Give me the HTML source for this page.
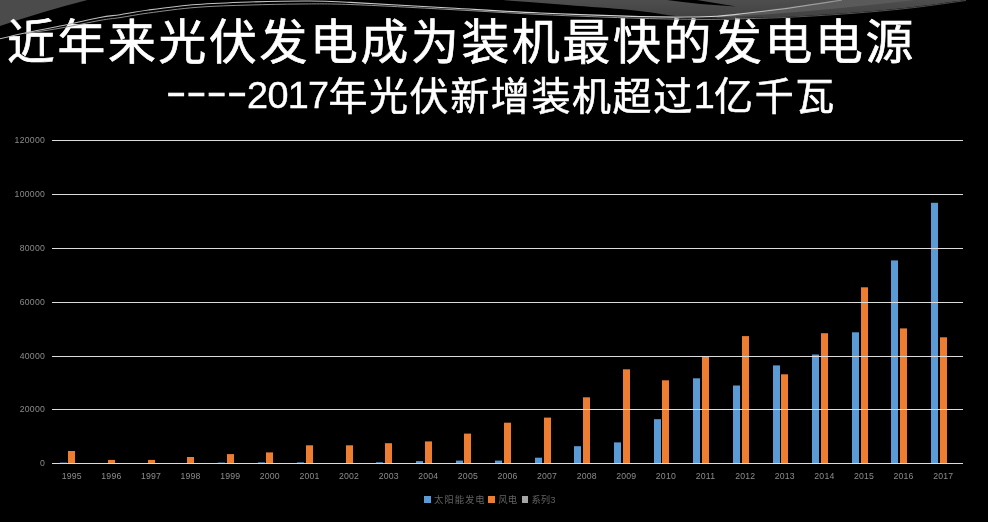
<!DOCTYPE html>
<html lang="zh-CN">
<head>
<meta charset="utf-8">
<title>近年来光伏发电成为装机最快的发电电源</title>
<style>
html,body{margin:0;padding:0;background:#000;}
body{width:988px;height:522px;overflow:hidden;position:relative;font-family:"Liberation Sans","Noto Sans CJK SC",sans-serif;}
#deco,#deco2,#chart{position:absolute;left:0;top:0;}
.ax{font-family:"Liberation Sans",sans-serif;font-size:8.7px;letter-spacing:0.2px;fill:#8c8c8c;}
.ay{font-family:"Liberation Sans",sans-serif;font-size:8.7px;letter-spacing:0.25px;fill:#8c8c8c;}
h1{position:absolute;left:7.1px;top:18.3px;margin:0;font-weight:400;-webkit-text-stroke:0.7px #fff;color:#fff;font-size:47.8px;line-height:50px;letter-spacing:2.7px;white-space:nowrap;font-family:"Liberation Sans","Noto Sans CJK SC",sans-serif;}
h2{position:absolute;left:165.9px;top:73.7px;margin:0;font-weight:400;-webkit-text-stroke:0.55px #fff;color:#fff;font-size:39px;line-height:46px;letter-spacing:1.6px;white-space:nowrap;font-family:"Liberation Sans","Noto Sans CJK SC",sans-serif;}
h2 .l{letter-spacing:-0.7px;font-size:37.8px;position:relative;top:-2px;-webkit-text-stroke:0.4px #fff;}
h2 .d{display:inline-block;letter-spacing:0;font-size:36.5px;-webkit-text-stroke:0.6px #fff;transform:scaleX(1.67);transform-origin:0 50%;width:81.2px;position:relative;top:-6px;}
.legend{position:absolute;left:0;top:0;font-size:9.4px;line-height:12px;color:#626262;white-space:nowrap;font-family:"Liberation Sans","Noto Sans CJK SC",sans-serif;}
.legend i{position:absolute;top:496.3px;width:6.7px;height:6.6px;}
.legend span{position:absolute;top:494.2px;}
</style>
</head>
<body>
<svg id="deco" width="988" height="60" viewBox="0 0 988 60">
<defs>
<linearGradient id="g1" x1="0" y1="0" x2="0" y2="1"><stop offset="0" stop-color="#4e4e4e"/><stop offset="1" stop-color="#414141"/></linearGradient>
</defs>
<path d="M0,0 L87.5,0 Q46,10.5 0,26 Z" fill="#4b4b4b"/>
<path d="M502,0 C507.5,0.4 524.2,1.6 535.0,2.4 C545.8,3.2 556.2,4.1 567.0,4.9 C577.8,5.8 589.5,6.7 600.0,7.5 C610.5,8.3 620.8,9.1 630.0,10.0 C639.2,10.9 647.8,12.0 655.0,13.0 C662.2,14.0 665.5,15.1 673.0,15.8 C680.5,16.5 688.8,16.9 700.0,17.3 C711.2,17.7 725.3,18.1 740.0,18.0 C754.7,17.9 769.8,17.5 788.0,16.7 C806.2,15.9 828.8,14.5 849.0,13.0 C869.2,11.5 890.0,9.7 909.5,7.5 C929.0,5.3 956.6,1.2 966.0,0.0 Z" fill="url(#g1)"/>
<path d="M717,16.4 L842,0 L915,0 Q810,12.5 717,17.6 Z" fill="#5a5a5a"/>
<path d="M667,0 L697,0 L736,6.4 Q700,4.6 667,0 Z" fill="#000"/>
</svg>
<h1>近年来光伏发电成为装机最快的发电电源</h1>
<h2><span class="d">----</span><span class="l">2017</span>年光伏新增装机超过<span class="l">1</span>亿千瓦</h2>
<svg id="deco2" width="988" height="60" viewBox="0 0 988 60">
<defs>
<linearGradient id="g2" gradientUnits="userSpaceOnUse" x1="0" y1="0" x2="988" y2="0"><stop offset="0" stop-color="#b8b8b8"/><stop offset="0.72" stop-color="#d8d8d8"/><stop offset="0.86" stop-color="#8a8a8a"/></linearGradient>
<linearGradient id="g3" gradientUnits="userSpaceOnUse" x1="0" y1="0" x2="988" y2="0"><stop offset="0" stop-color="#8e8e8e"/><stop offset="0.72" stop-color="#8e8e8e"/><stop offset="0.8" stop-color="#585858"/><stop offset="1" stop-color="#484848"/></linearGradient>
</defs>
<path d="M25,33.5 C30.8,32.6 47.5,30.4 60.0,28.2 C72.5,26.0 90.0,22.2 100.0,20.4 C110.0,18.6 111.9,18.8 120.0,17.6 C128.1,16.4 135.8,14.7 148.6,13.0 C161.4,11.3 180.1,8.6 197.0,7.3 C213.9,6.0 232.8,5.5 250.0,5.0 C267.2,4.5 283.3,4.1 300.0,4.0 C316.7,3.9 325.0,3.6 350.0,4.5 C375.0,5.4 418.3,7.8 450.0,9.5 C481.7,11.2 508.3,13.0 540.0,14.5 C571.7,16.0 613.3,17.5 640.0,18.3 C666.7,19.1 683.3,19.2 700.0,19.3 C716.7,19.4 725.3,19.1 740.0,18.8 C754.7,18.5 769.8,18.2 788.0,17.3 C806.2,16.4 828.8,15.1 849.0,13.6 C869.2,12.1 890.0,10.3 909.5,8.1 C929.0,5.9 956.6,1.8 966.0,0.5" fill="none" stroke="url(#g3)" stroke-width="1"/>
<path d="M-5,40 C0.0,38.8 14.2,35.3 25.0,33.0 C35.8,30.7 47.5,28.6 60.0,26.0 C72.5,23.4 90.0,19.4 100.0,17.5 C110.0,15.6 111.9,15.9 120.0,14.7 C128.1,13.4 135.8,11.7 148.6,10.0 C161.4,8.3 180.1,5.8 197.0,4.5 C213.9,3.2 231.2,2.6 250.0,2.0 C268.8,1.4 293.3,0.9 310.0,1.0 C326.7,1.1 326.7,1.2 350.0,2.4 C373.3,3.6 418.3,6.2 450.0,8.0 C481.7,9.8 508.3,11.6 540.0,13.0 C571.7,14.4 615.0,15.9 640.0,16.6 C665.0,17.3 677.2,17.1 690.0,17.0 C702.8,16.9 708.7,16.7 717.0,16.2 C725.3,15.7 729.5,15.2 740.0,14.0 C750.5,12.8 763.0,11.6 780.0,9.3 C797.0,7.0 831.7,1.6 842.0,0.0" fill="none" stroke="url(#g2)" stroke-width="1.1"/>
</svg>
<svg id="chart" width="988" height="522" viewBox="0 0 988 522">
<rect x="60" y="462.6" width="7" height="0.9" fill="#5b9bd5"/>
<rect x="68" y="451.0" width="7" height="12.5" fill="#ed7d31"/>
<rect x="99" y="463.3" width="7" height="0.2" fill="#5b9bd5"/>
<rect x="108" y="459.9" width="7" height="3.6" fill="#ed7d31"/>
<rect x="139" y="463.2" width="7" height="0.3" fill="#5b9bd5"/>
<rect x="148" y="459.9" width="7" height="3.6" fill="#ed7d31"/>
<rect x="178" y="463.2" width="7" height="0.3" fill="#5b9bd5"/>
<rect x="187" y="457.0" width="7" height="6.5" fill="#ed7d31"/>
<rect x="218" y="462.6" width="7" height="0.9" fill="#5b9bd5"/>
<rect x="227" y="454.1" width="7" height="9.4" fill="#ed7d31"/>
<rect x="258" y="462.4" width="7" height="1.1" fill="#5b9bd5"/>
<rect x="266" y="452.4" width="7" height="11.1" fill="#ed7d31"/>
<rect x="297" y="462.4" width="7" height="1.1" fill="#5b9bd5"/>
<rect x="306" y="445.3" width="7" height="18.2" fill="#ed7d31"/>
<rect x="337" y="463.1" width="7" height="0.4" fill="#5b9bd5"/>
<rect x="346" y="445.3" width="7" height="18.2" fill="#ed7d31"/>
<rect x="376" y="462.3" width="7" height="1.2" fill="#5b9bd5"/>
<rect x="385" y="443.2" width="7" height="20.3" fill="#ed7d31"/>
<rect x="416" y="461.1" width="7" height="2.4" fill="#5b9bd5"/>
<rect x="425" y="441.4" width="7" height="22.1" fill="#ed7d31"/>
<rect x="456" y="460.6" width="7" height="2.9" fill="#5b9bd5"/>
<rect x="464" y="433.6" width="7" height="29.9" fill="#ed7d31"/>
<rect x="495" y="460.6" width="7" height="2.9" fill="#5b9bd5"/>
<rect x="504" y="422.7" width="7" height="40.8" fill="#ed7d31"/>
<rect x="535" y="457.7" width="7" height="5.8" fill="#5b9bd5"/>
<rect x="544" y="417.6" width="7" height="45.9" fill="#ed7d31"/>
<rect x="574" y="446.2" width="7" height="17.3" fill="#5b9bd5"/>
<rect x="583" y="397.3" width="7" height="66.2" fill="#ed7d31"/>
<rect x="614" y="442.4" width="7" height="21.1" fill="#5b9bd5"/>
<rect x="623" y="369.3" width="7" height="94.2" fill="#ed7d31"/>
<rect x="654" y="419.2" width="7" height="44.3" fill="#5b9bd5"/>
<rect x="662" y="380.3" width="7" height="83.2" fill="#ed7d31"/>
<rect x="693" y="378.3" width="7" height="85.2" fill="#5b9bd5"/>
<rect x="702" y="356.9" width="7" height="106.6" fill="#ed7d31"/>
<rect x="733" y="385.5" width="7" height="78.0" fill="#5b9bd5"/>
<rect x="742" y="336.1" width="7" height="127.4" fill="#ed7d31"/>
<rect x="773" y="365.4" width="7" height="98.1" fill="#5b9bd5"/>
<rect x="781" y="374.3" width="7" height="89.2" fill="#ed7d31"/>
<rect x="812" y="354.5" width="7" height="109.0" fill="#5b9bd5"/>
<rect x="821" y="333.2" width="7" height="130.3" fill="#ed7d31"/>
<rect x="852" y="332.3" width="7" height="131.2" fill="#5b9bd5"/>
<rect x="861" y="287.3" width="7" height="176.2" fill="#ed7d31"/>
<rect x="891" y="260.4" width="7" height="203.1" fill="#5b9bd5"/>
<rect x="900" y="328.4" width="7" height="135.1" fill="#ed7d31"/>
<rect x="931" y="202.8" width="7" height="260.7" fill="#5b9bd5"/>
<rect x="940" y="337.3" width="7" height="126.2" fill="#ed7d31"/>
<rect x="52" y="463" width="911" height="1" fill="#dcdcdc"/>
<rect x="52" y="409" width="911" height="1" fill="#dcdcdc"/>
<rect x="52" y="356" width="911" height="1" fill="#dcdcdc"/>
<rect x="52" y="302" width="911" height="1" fill="#dcdcdc"/>
<rect x="52" y="248" width="911" height="1" fill="#dcdcdc"/>
<rect x="52" y="194" width="911" height="1" fill="#dcdcdc"/>
<rect x="52" y="140" width="911" height="1" fill="#dcdcdc"/>
<text x="45.1" y="466.3" text-anchor="end" class="ay">0</text>
<text x="45.1" y="412.3" text-anchor="end" class="ay">20000</text>
<text x="45.1" y="359.3" text-anchor="end" class="ay">40000</text>
<text x="45.1" y="305.3" text-anchor="end" class="ay">60000</text>
<text x="45.1" y="251.3" text-anchor="end" class="ay">80000</text>
<text x="45.1" y="197.3" text-anchor="end" class="ay">100000</text>
<text x="45.1" y="143.3" text-anchor="end" class="ay">120000</text>
<text x="71.8" y="479.3" text-anchor="middle" class="ax">1995</text>
<text x="111.4" y="479.3" text-anchor="middle" class="ax">1996</text>
<text x="151.0" y="479.3" text-anchor="middle" class="ax">1997</text>
<text x="190.6" y="479.3" text-anchor="middle" class="ax">1998</text>
<text x="230.2" y="479.3" text-anchor="middle" class="ax">1999</text>
<text x="269.8" y="479.3" text-anchor="middle" class="ax">2000</text>
<text x="309.5" y="479.3" text-anchor="middle" class="ax">2001</text>
<text x="349.1" y="479.3" text-anchor="middle" class="ax">2002</text>
<text x="388.7" y="479.3" text-anchor="middle" class="ax">2003</text>
<text x="428.3" y="479.3" text-anchor="middle" class="ax">2004</text>
<text x="467.9" y="479.3" text-anchor="middle" class="ax">2005</text>
<text x="507.5" y="479.3" text-anchor="middle" class="ax">2006</text>
<text x="547.1" y="479.3" text-anchor="middle" class="ax">2007</text>
<text x="586.7" y="479.3" text-anchor="middle" class="ax">2008</text>
<text x="626.3" y="479.3" text-anchor="middle" class="ax">2009</text>
<text x="665.9" y="479.3" text-anchor="middle" class="ax">2010</text>
<text x="705.5" y="479.3" text-anchor="middle" class="ax">2011</text>
<text x="745.2" y="479.3" text-anchor="middle" class="ax">2012</text>
<text x="784.8" y="479.3" text-anchor="middle" class="ax">2013</text>
<text x="824.4" y="479.3" text-anchor="middle" class="ax">2014</text>
<text x="864.0" y="479.3" text-anchor="middle" class="ax">2015</text>
<text x="903.6" y="479.3" text-anchor="middle" class="ax">2016</text>
<text x="943.2" y="479.3" text-anchor="middle" class="ax">2017</text>
</svg>
<div class="legend"><i style="left:424.1px;background:#5b9bd5"></i><span style="left:434px;letter-spacing:0.95px">太阳能发电</span><i style="left:487.9px;background:#ed7d31"></i><span style="left:498.3px">风电</span><i style="left:521.6px;background:#a5a5a5"></i><span style="left:531.4px">系列3</span></div>
</body>
</html>
